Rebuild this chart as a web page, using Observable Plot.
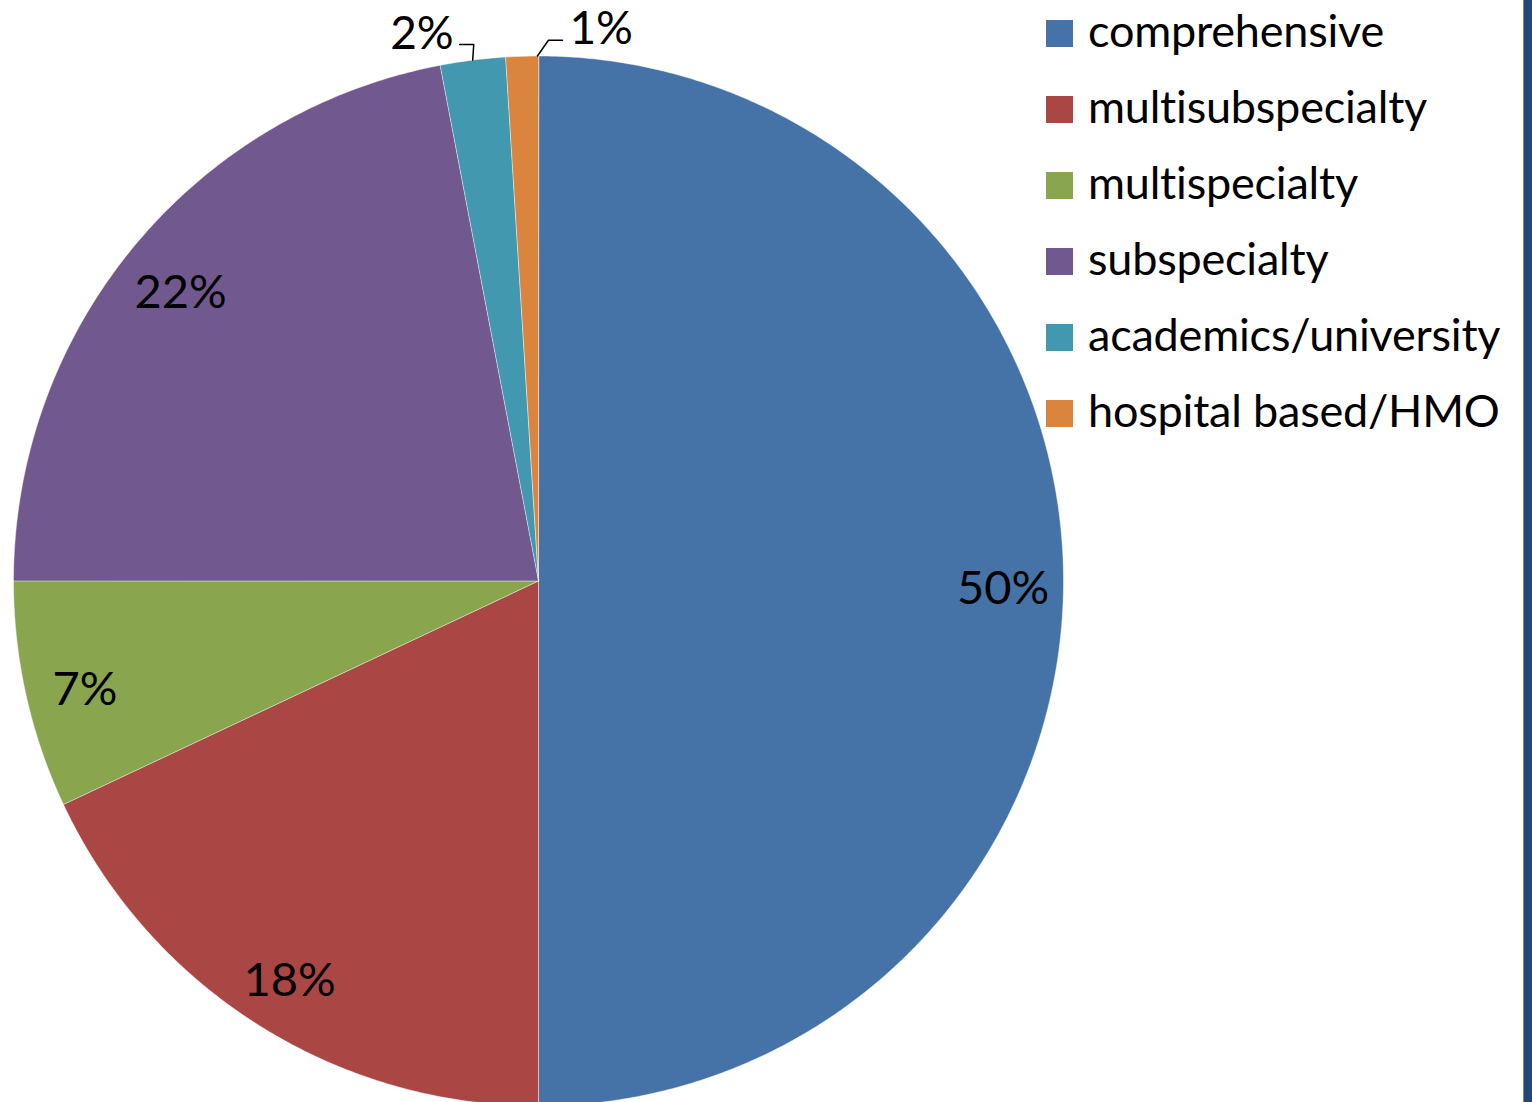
<!DOCTYPE html>
<html>
<head>
<meta charset="utf-8">
<script src="https://cdn.jsdelivr.net/npm/d3@7"></script>
<script src="https://cdn.jsdelivr.net/npm/@observablehq/plot@0.6"></script>
<style>
  html, body { margin: 0; padding: 0; background: #fff; overflow: hidden; }
  #wrap { position: relative; width: 1532px; height: 1102px; overflow: hidden; background: #fff; }
  #chart { position: absolute; left: 0; top: 0; }
  .legend-row { position: absolute; left: 1046px; height: 27px; }
  .legend-sw { position: absolute; left: 0; top: 0; width: 27px; height: 27px; }
  .legend-tx { position: absolute; left: 42px; top: -3px; line-height: 27px; font-family: Lato, "Open Sans", sans-serif; font-size: 45px; letter-spacing: -0.2px; color: #000; white-space: nowrap; }
  #edge { position: absolute; left: 1523px; top: 0; width: 9px; height: 1102px; background: #1f497d; border-left: 1px solid #7f8c9c; }
</style>
</head>
<body>
<div id="wrap">
  <div id="chart"></div>
  <div id="legend"></div>
  <div id="edge"></div>
</div>
<script>
const categories = ["comprehensive", "multisubspecialty", "multispecialty", "subspecialty", "academics/university", "hospital based/HMO"];
const values = [50, 18, 7, 22, 2, 1];
const colors = ["#4572A7", "#AA4643", "#89A54E", "#71588F", "#4198AF", "#DB843D"];

const W = 1532, H = 1102;
const cx = 538, cy = 580.5, R = 525;
const FONT = "Lato, 'Open Sans', sans-serif";

const arcs = d3.pie().sort(null).value(d => d)(values).map((a, i) => ({...a, name: categories[i], value: values[i]}));

// polygon points for each slice (center + arc)
const pts = [];
for (const a of arcs) {
  pts.push({name: a.name, x: 0, y: 0});
  const n = Math.max(4, Math.ceil((a.endAngle - a.startAngle) / (Math.PI / 360)));
  for (let k = 0; k <= n; k++) {
    const t = a.startAngle + (a.endAngle - a.startAngle) * k / n;
    pts.push({name: a.name, x: Math.sin(t), y: Math.cos(t)});
  }
}

// labels inside the larger slices
const inside = arcs.filter(a => a.value >= 5).map(a => {
  const m = (a.startAngle + a.endAngle) / 2;
  return {text: a.value + "%", x: Math.sin(m) * 0.885, y: Math.cos(m) * 0.885};
});

// labels with leader lines for small slices
const outsideArcs = arcs.filter(a => a.value < 5);
const leaders = [];
const outside = [];
for (const a of outsideArcs) {
  const right = a.endAngle >= 2 * Math.PI - 1e-6;
  const side = right ? 1 : -1;
  const ang = right ? a.endAngle - 0.002 : (a.startAngle + a.endAngle) / 2;
  const p0 = {x: Math.sin(ang), y: Math.cos(ang)};
  const elbow = {x: Math.sin(ang) * 1.03 + side * (right ? 11 : -3) / R, y: Math.cos(ang) * 1.03};
  const end = {x: elbow.x + side * 14 / R, y: elbow.y};
  leaders.push({name: a.name, ...p0}, {name: a.name, ...elbow}, {name: a.name, ...end});
  outside.push({text: a.value + "%", x: end.x, y: end.y, anchor: right ? "start" : "end"});
}

const plot = Plot.plot({
  width: W,
  height: H,
  margin: 0,
  x: {domain: [-1, 1], range: [cx - R, cx + R], axis: null},
  y: {domain: [-1, 1], range: [cy + R, cy - R], axis: null},
  color: {domain: categories, range: colors},
  style: {background: "white", overflow: "hidden"},
  marks: [
    Plot.line(pts, {x: "x", y: "y", z: "name", fill: "name", stroke: "white", strokeOpacity: 0.45, strokeWidth: 1, curve: "linear-closed"}),
    Plot.text(inside, {x: "x", y: "y", text: "text", fontSize: 47, dy: 8, fill: "black", fontFamily: FONT}),
    Plot.line(leaders, {x: "x", y: "y", z: "name", stroke: "black", strokeWidth: 1.5}),
    Plot.text(outside.filter(d => d.anchor === "end"), {x: "x", y: "y", text: "text", fontSize: 46, fill: "black", textAnchor: "end", lineAnchor: "bottom", dx: -6, dy: 4, fontFamily: FONT}),
    Plot.text(outside.filter(d => d.anchor === "start"), {x: "x", y: "y", text: "text", fontSize: 46, fill: "black", textAnchor: "start", lineAnchor: "bottom", dx: 7, dy: 4, fontFamily: FONT})
  ]
});
document.getElementById("chart").appendChild(plot);

const legend = document.getElementById("legend");
categories.forEach((c, i) => {
  const row = document.createElement("div");
  row.className = "legend-row";
  row.style.top = (20 + i * 76) + "px";
  const sw = document.createElement("div");
  sw.className = "legend-sw";
  sw.style.background = colors[i];
  const tx = document.createElement("span");
  tx.className = "legend-tx";
  tx.textContent = c;
  row.appendChild(sw);
  row.appendChild(tx);
  legend.appendChild(row);
});
</script>
</body>
</html>
